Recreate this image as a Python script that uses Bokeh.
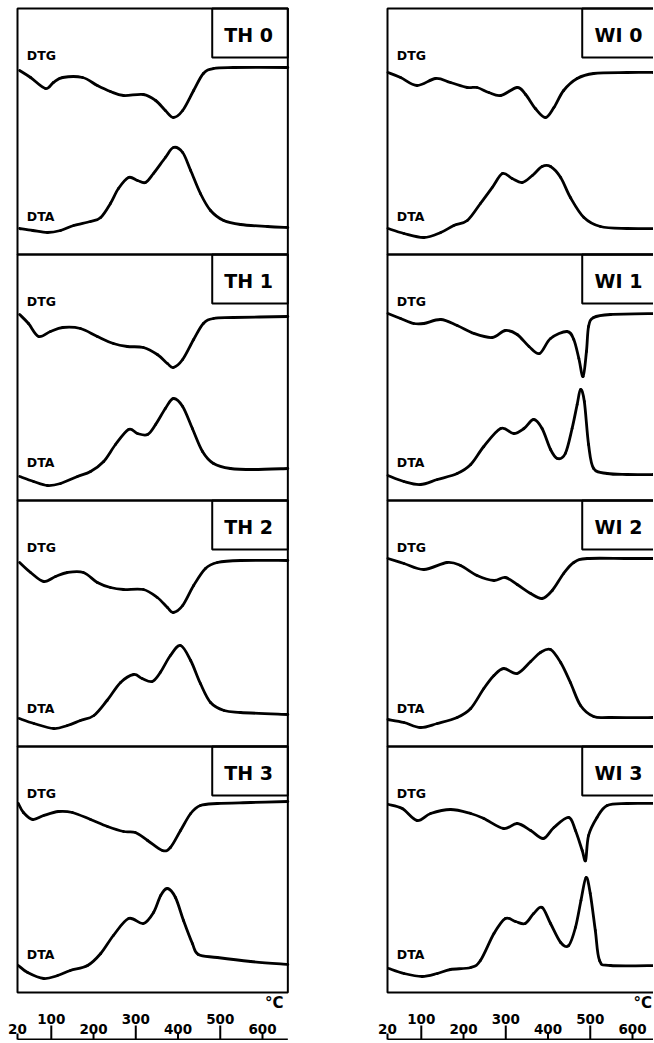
from bokeh.plotting import figure
from bokeh.layouts import row
from bokeh.models import Range1d
from bokeh.core.properties import value
from bokeh.embed import file_html
from bokeh.resources import INLINE

# ---------------- data ----------------
SAMPLES_TH = ["TH 0", "TH 1", "TH 2", "TH 3"]
SAMPLES_WI = ["WI 0", "WI 1", "WI 2", "WI 3"]
TICKS = [20, 100, 200, 300, 400, 500, 600]
RAISED_TICKS = [100, 300, 500]
T_START, T_END = 20, 660
UNIT = "°C"

# signal heights are in arbitrary units above each panel's floor (panel = 246 units)
TH0_DTG_T = [25, 51, 86, 105, 127, 174, 209, 240, 271, 318, 347, 370, 389, 411, 437, 460, 484, 531, 660]
TH0_DTG_V = [184, 177, 166, 172, 177, 177, 169, 163, 159, 160, 154, 144, 137, 144, 164, 181, 186, 187, 187]
TH0_DTA_T = [25, 56, 91, 122, 153, 193, 217, 240, 259, 283, 304, 323, 342, 370, 389, 411, 430, 453, 477, 508, 548, 612, 660]
TH0_DTA_V = [26, 24, 22, 24, 29, 33, 37, 51, 66, 77, 74, 72, 81, 97, 107, 102, 84, 61, 44, 34, 30, 28, 27]

TH1_DTG_T = [25, 46, 70, 98, 127, 169, 209, 247, 280, 318, 351, 375, 389, 411, 437, 460, 484, 531, 660]
TH1_DTG_V = [186, 177, 164, 169, 173, 172, 164, 157, 154, 153, 146, 137, 133, 141, 161, 177, 182, 183, 184]
TH1_DTA_T = [25, 58, 91, 122, 162, 193, 224, 252, 283, 304, 328, 347, 370, 389, 411, 434, 458, 484, 524, 579, 660]
TH1_DTA_V = [24, 19, 15, 17, 24, 29, 39, 56, 71, 67, 66, 76, 92, 102, 94, 72, 49, 37, 32, 31, 32]

TH2_DTG_T = [25, 51, 82, 110, 138, 176, 209, 240, 271, 318, 351, 375, 389, 411, 437, 465, 493, 548, 660]
TH2_DTG_V = [184, 174, 165, 170, 174, 174, 164, 159, 157, 157, 149, 139, 134, 141, 161, 178, 184, 186, 186]
TH2_DTA_T = [24, 59, 106, 138, 169, 201, 232, 264, 295, 315, 339, 358, 382, 406, 430, 453, 477, 509, 548, 660]
TH2_DTA_V = [28, 23, 18, 21, 26, 31, 46, 64, 72, 68, 65, 74, 91, 101, 86, 63, 44, 36, 34, 32]

TH3_DTG_T = [22, 34, 56, 82, 117, 150, 193, 233, 271, 299, 328, 363, 382, 406, 430, 453, 493, 572, 660]
TH3_DTG_V = [189, 180, 173, 177, 181, 180, 173, 166, 161, 160, 152, 142, 145, 162, 179, 187, 189, 190, 191]
TH3_DTA_T = [22, 44, 82, 115, 145, 186, 217, 247, 283, 318, 342, 359, 375, 394, 413, 434, 448, 493, 572, 660]
TH3_DTA_V = [27, 20, 14, 17, 22, 27, 39, 57, 74, 69, 80, 97, 104, 95, 72, 49, 38, 35, 31, 28]

WI0_DTG_T = [21, 51, 90, 134, 169, 209, 232, 260, 288, 327, 347, 370, 394, 414, 437, 469, 508, 587, 660]
WI0_DTG_V = [182, 177, 169, 176, 172, 167, 167, 162, 159, 167, 160, 146, 137, 147, 164, 176, 181, 182, 182]
WI0_DTA_T = [21, 59, 106, 146, 177, 209, 240, 268, 292, 315, 339, 363, 386, 406, 430, 453, 485, 524, 587, 660]
WI0_DTA_V = [26, 21, 17, 22, 29, 34, 51, 67, 81, 76, 72, 79, 88, 88, 77, 57, 37, 28, 26, 26]

WI1_DTG_T = [21, 51, 82, 106, 146, 185, 225, 268, 299, 327, 355, 380, 406, 445, 461, 473, 483, 491, 496, 508, 548, 660]
WI1_DTG_V = [187, 182, 177, 177, 181, 175, 167, 163, 170, 166, 154, 147, 162, 169, 161, 142, 124, 149, 174, 183, 186, 187]
WI1_DTA_T = [21, 59, 98, 138, 185, 217, 248, 288, 319, 343, 366, 386, 406, 422, 441, 457, 469, 477, 486, 496, 508, 540, 587, 660]
WI1_DTA_V = [25, 19, 16, 21, 27, 36, 54, 72, 67, 72, 81, 72, 51, 42, 47, 72, 96, 111, 99, 56, 32, 27, 26, 26]

WI2_DTG_T = [21, 59, 106, 161, 193, 232, 272, 299, 327, 359, 386, 410, 437, 461, 493, 587, 660]
WI2_DTG_V = [188, 183, 177, 184, 181, 171, 166, 169, 162, 153, 148, 156, 173, 184, 188, 188, 188]
WI2_DTA_T = [21, 59, 98, 138, 185, 217, 248, 272, 295, 327, 359, 382, 406, 430, 453, 477, 508, 548, 660]
WI2_DTA_V = [27, 24, 19, 23, 29, 38, 58, 71, 78, 73, 85, 94, 97, 84, 64, 41, 30, 29, 29]

WI3_DTG_T = [23, 55, 90, 122, 169, 217, 248, 295, 327, 359, 389, 414, 449, 465, 481, 489, 496, 516, 540, 587, 660]
WI3_DTG_V = [188, 184, 172, 179, 183, 179, 174, 164, 169, 162, 154, 165, 175, 162, 142, 132, 157, 175, 187, 189, 189]
WI3_DTA_T = [23, 59, 102, 138, 169, 217, 240, 272, 299, 323, 346, 366, 386, 406, 430, 449, 465, 478, 490, 500, 512, 522, 548, 660]
WI3_DTA_V = [24, 19, 16, 19, 23, 25, 32, 59, 74, 71, 69, 79, 85, 69, 50, 47, 65, 92, 115, 99, 62, 32, 27, 27]

TH_CURVES = [
    (TH0_DTG_T, TH0_DTG_V, TH0_DTA_T, TH0_DTA_V),
    (TH1_DTG_T, TH1_DTG_V, TH1_DTA_T, TH1_DTA_V),
    (TH2_DTG_T, TH2_DTG_V, TH2_DTA_T, TH2_DTA_V),
    (TH3_DTG_T, TH3_DTG_V, TH3_DTA_T, TH3_DTA_V),
]
WI_CURVES = [
    (WI0_DTG_T, WI0_DTG_V, WI0_DTA_T, WI0_DTA_V),
    (WI1_DTG_T, WI1_DTG_V, WI1_DTA_T, WI1_DTA_V),
    (WI2_DTG_T, WI2_DTG_V, WI2_DTA_T, WI2_DTA_V),
    (WI3_DTG_T, WI3_DTG_V, WI3_DTA_T, WI3_DTA_V),
]

# ---------------- layout / style ----------------
PX_PER_C = 0.4224
PANEL_H = 246
TOP = 4 * PANEL_H
FIG_H = 1040
Y_TOP = TOP + 8
X0 = T_START - 17 / PX_PER_C
FONT = value("DejaVu Sans")
BOX_LEFT = 481
BOX_TEXT_X = 567
LABEL_X = 42
LW = 2.8


def smooth_curve(p, xs, ys):
    """Draw a smooth pen-like trace through the read points (Catmull-Rom as Beziers)."""
    n = len(xs)
    X0s, Y0s, X1s, Y1s, C0x, C0y, C1x, C1y = [], [], [], [], [], [], [], []
    for i in range(n - 1):
        a = max(i - 1, 0)
        d = min(i + 2, n - 1)
        X0s.append(xs[i]); Y0s.append(ys[i])
        X1s.append(xs[i + 1]); Y1s.append(ys[i + 1])
        C0x.append(xs[i] + (xs[i + 1] - xs[a]) / 6.0)
        C0y.append(ys[i] + (ys[i + 1] - ys[a]) / 6.0)
        C1x.append(xs[i + 1] - (xs[d] - xs[i]) / 6.0)
        C1y.append(ys[i + 1] - (ys[d] - ys[i]) / 6.0)
    p.bezier(x0=X0s, y0=Y0s, x1=X1s, y1=Y1s, cx0=C0x, cy0=C0y, cx1=C1x, cy1=C1y,
             line_color="black", line_width=LW, line_cap="round")


def make_column(names, curves, width, unit_x):
    p = figure(width=width, height=FIG_H,
               x_range=Range1d(X0, X0 + width / PX_PER_C),
               y_range=Range1d(Y_TOP - FIG_H, Y_TOP),
               output_backend="svg", toolbar_location=None,
               min_border=0, x_axis_type=None, y_axis_type=None,
               outline_line_color=None)
    for g in p.grid:
        g.visible = False
    for k, (name, (gt, gv, at, av)) in enumerate(zip(names, curves)):
        base = TOP - PANEL_H * (k + 1)
        top = base + PANEL_H
        p.quad(left=[T_START], right=[T_END], bottom=[base], top=[top],
               fill_color=None, line_color="black", line_width=2)
        p.quad(left=[BOX_LEFT], right=[T_END], bottom=[base + 197], top=[top],
               fill_color=None, line_color="black", line_width=2)
        smooth_curve(p, gt, [base + v for v in gv])
        smooth_curve(p, at, [base + v for v in av])
        p.text(x=[BOX_TEXT_X], y=[base + 220], text=[name], text_font=FONT,
               text_font_style="bold", text_font_size="19px",
               text_align="center", text_baseline="middle", text_color="black")
        p.text(x=[LABEL_X, LABEL_X], y=[base + 199, base + 38], text=["DTG", "DTA"],
               text_font=FONT, text_font_style="bold", text_font_size="12.5px",
               text_align="left", text_baseline="middle", text_color="black")
    # temperature axis drawn below the panels
    ax_y = -47
    p.segment(x0=[T_START], y0=[ax_y], x1=[T_END], y1=[ax_y],
              line_color="black", line_width=2)
    tops = [-33 if t in RAISED_TICKS else -41 for t in TICKS]
    p.segment(x0=TICKS, y0=[ax_y] * len(TICKS), x1=TICKS, y1=tops,
              line_color="black", line_width=2)
    ys = [-26 if t in RAISED_TICKS else -36 for t in TICKS]
    p.text(x=TICKS, y=ys, text=[str(t) for t in TICKS], text_font=FONT,
           text_font_style="bold", text_font_size="13.5px", text_align="center",
           text_baseline="middle", text_color="black")
    p.text(x=[unit_x], y=[-10], text=[UNIT], text_font=FONT, text_font_style="bold",
           text_font_size="15px", text_align="right", text_baseline="middle",
           text_color="black")
    return p


left = make_column(SAMPLES_TH, TH_CURVES, 370, 650)
right = make_column(SAMPLES_WI, WI_CURVES, 283, 646)
layout = row(left, right)

open("out.html", "w").write(file_html(layout, INLINE))
